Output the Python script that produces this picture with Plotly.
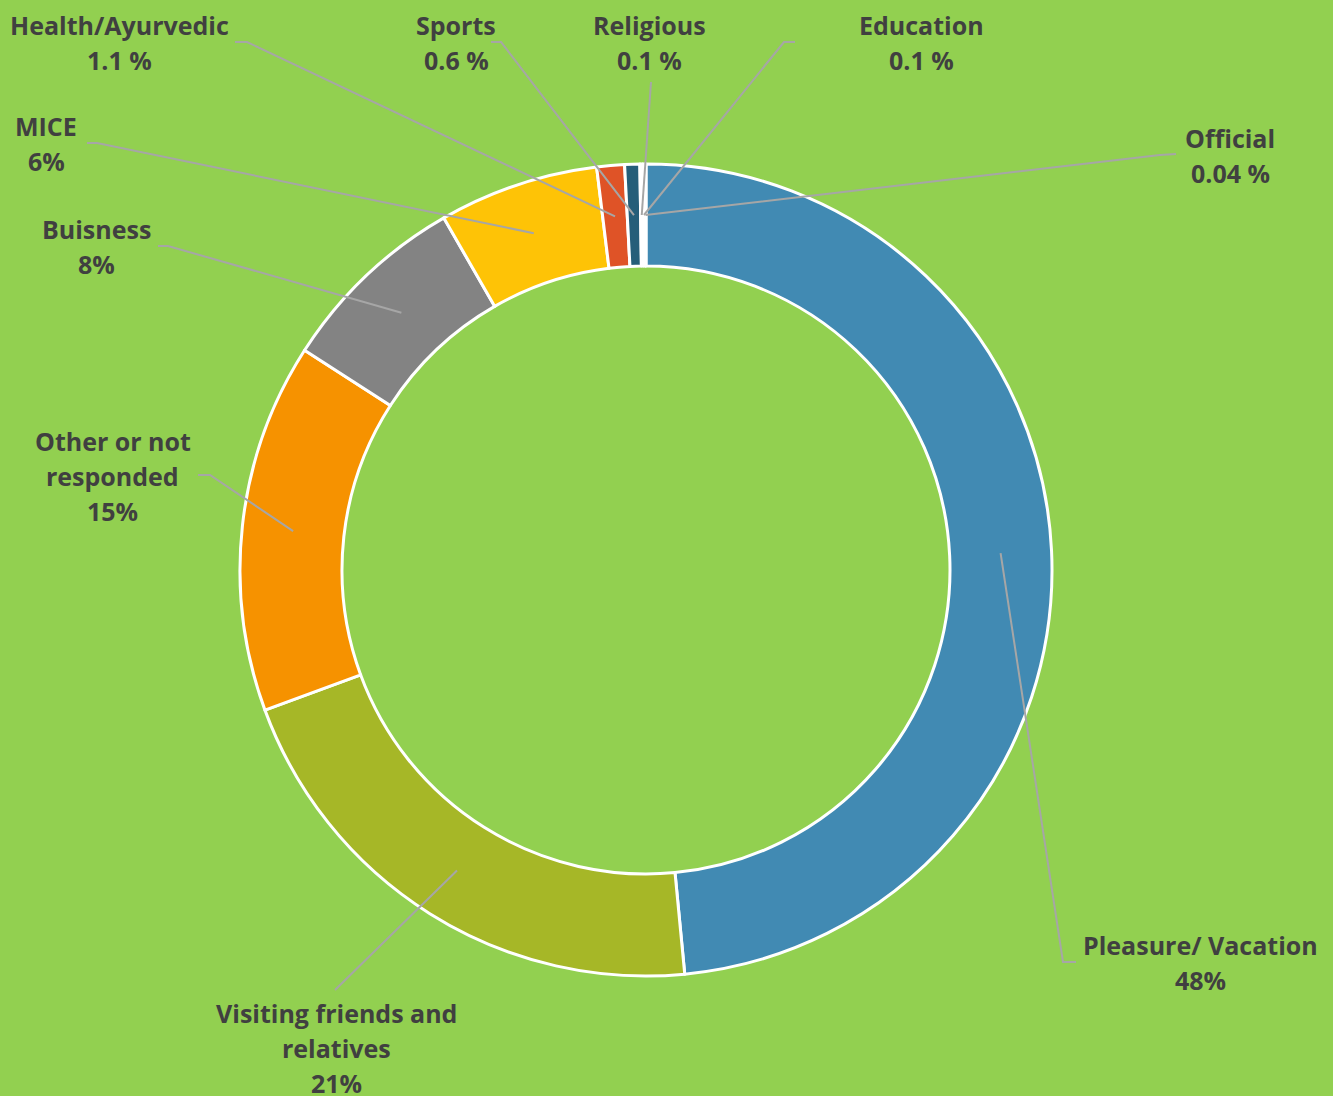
import math
import plotly.graph_objects as go

# ---- data ----
categories = ["Pleasure/ Vacation", "Visiting friends and relatives", "Other or not responded",
              "Buisness", "MICE", "Health/Ayurvedic", "Sports", "Religious", "Education", "Official"]
values = [48.45, 20.9, 14.7, 7.6, 6.35, 1.1, 0.6, 0.1, 0.1, 0.04]
value_labels = ["48%", "21%", "15%", "8%", "6%", "1.1 %", "0.6 %", "0.1 %", "0.1 %", "0.04 %"]
name_lines = [["Pleasure/ Vacation"], ["Visiting friends and", "relatives"], ["Other or not", "responded"],
              ["Buisness"], ["MICE"], ["Health/Ayurvedic"], ["Sports"], ["Religious"], ["Education"], ["Official"]]
colors = ["#418AB3", "#A6B727", "#F69200", "#838383", "#FEC306", "#DF5327", "#255E79",
          "#FFFFFF", "#FFFFFF", "#FFFFFF"]

# ---- layout geometry (pixels) ----
W, H = 1333, 1096
CX, CY, R_OUT, R_IN = 646, 570, 406, 304
R_MID = (R_OUT + R_IN) / 2

# label centre (x, y of first line) and leader elbow points (label side)
label_pos = [(1200, 945), (336, 1013), (113, 441), (96, 229), (46, 126),
             (119, 25), (456, 25), (649, 25), (922, 25), (1230, 138)]
elbows = [
    [(1076, 962), (1063, 962)],
    [(335, 990)],
    [(198, 475), (210, 475)],
    [(158, 246), (168, 246)],
    [(87, 143), (97, 143)],
    [(235, 42), (247, 42)],
    [(491, 42), (501, 42)],
    [(651, 82)],
    [(795, 42), (784, 42)],
    [(1176, 154), (1160, 155)],
]
LINE_H = 35

def px(x):
    return x / W

def py(y):
    return 1 - y / H

fig = go.Figure()
fig.add_trace(go.Pie(
    labels=categories, values=values, sort=False, direction="clockwise", rotation=0,
    hole=R_IN / R_OUT,
    marker=dict(colors=colors, line=dict(color="white", width=3)),
    textinfo="none", hoverinfo="skip", showlegend=False,
    domain=dict(x=[px(CX - R_OUT), px(CX + R_OUT)], y=[py(CY + R_OUT), py(CY - R_OUT)]),
))

total = sum(values)
cum = 0.0
shapes = []
annotations = []
for i, v in enumerate(values):
    mid = (cum + v / 2) / total * 2 * math.pi
    cum += v
    tx = CX + R_MID * math.sin(mid)
    ty = CY - R_MID * math.cos(mid)
    pts = elbows[i] + [(tx, ty)]
    path = "M " + " L ".join(f"{px(x):.5f},{py(y):.5f}" for x, y in pts)
    shapes.append(dict(type="path", path=path, xref="paper", yref="paper",
                       line=dict(color="#A6A6A6", width=2)))
    lx, ly = label_pos[i]
    lines = name_lines[i] + [value_labels[i]]
    for k, t in enumerate(lines):
        annotations.append(dict(
            text=t, x=px(lx), y=py(ly + k * LINE_H), xref="paper", yref="paper",
            xanchor="center", yanchor="middle", showarrow=False,
            font=dict(family="Open Sans", size=25, color="#404040", weight="bold"),
        ))

fig.update_layout(
    width=W, height=H, margin=dict(l=0, r=0, t=0, b=0),
    paper_bgcolor="#92D050", plot_bgcolor="#92D050",
    shapes=shapes, annotations=annotations,
)

fig.write_html("out.html")
